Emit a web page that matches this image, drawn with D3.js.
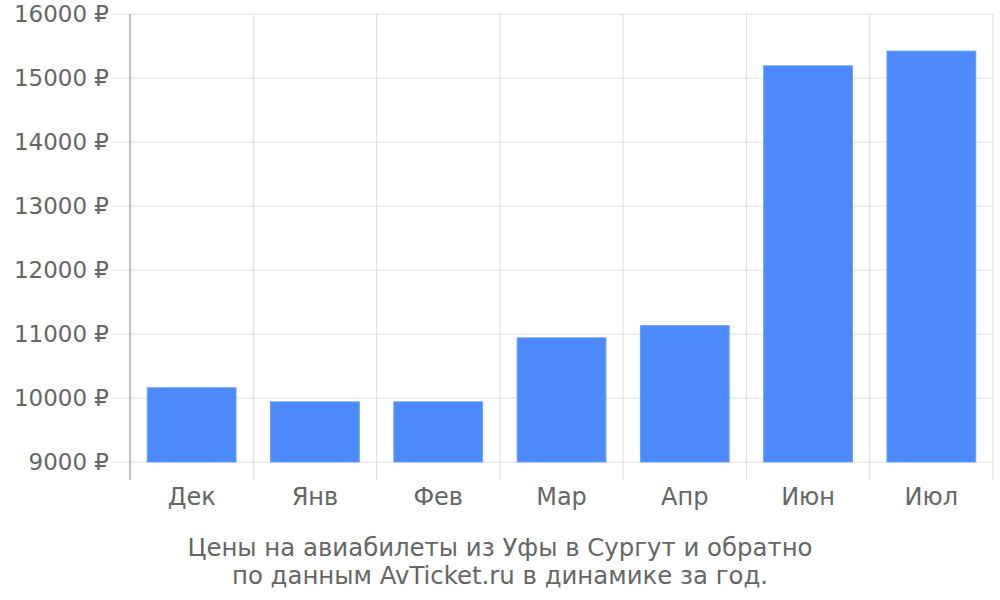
<!DOCTYPE html>
<html>
<head>
<meta charset="utf-8">
<script src="https://cdn.jsdelivr.net/npm/d3@7"></script>
<style>
  html, body { margin: 0; padding: 0; background: #fff; }
  svg { display: block; font-family: "DejaVu Sans", sans-serif; }
</style>
</head>
<body>
<svg id="chart" width="1000" height="600"></svg>
<script>
const categories = ["Дек", "Янв", "Фев", "Мар", "Апр", "Июн", "Июл"];
const prices = [10160, 9940, 9940, 10940, 11130, 15190, 15420];
const yTicks = [9000, 10000, 11000, 12000, 13000, 14000, 15000, 16000];
const titleLines = ["Цены на авиабилеты из Уфы в Сургут и обратно", "по данным AvTicket.ru в динамике за год."];

(function () {
const svg = d3.select("#chart");
const mLeft = 130, mRight = 993, mTop = 14, mBottom = 462;
const tickLen = 20;

const x = d3.scaleBand().domain(categories).range([mLeft, mRight]).paddingInner(0).paddingOuter(0);
const y = d3.scaleLinear().domain([9000, 16000]).range([mBottom, mTop]);

const gridColor = "#e0e0e0";
const axisColor = "#a8a8a8";
const textColor = "#666";

// horizontal gridlines
svg.append("g").selectAll("line").data(yTicks).join("line")
  .attr("x1", mLeft - tickLen).attr("x2", mRight)
  .attr("y1", d => y(d)).attr("y2", d => y(d))
  .attr("stroke", gridColor).attr("stroke-width", 1.2);

// vertical gridlines at band boundaries
const bounds = categories.slice(1).map(c => x(c)).concat([mRight]);
svg.append("g").selectAll("line").data(bounds).join("line")
  .attr("x1", d => d).attr("x2", d => d)
  .attr("y1", mTop).attr("y2", mBottom + tickLen - 2)
  .attr("stroke", gridColor).attr("stroke-width", 1.2);

// bars
svg.append("g").selectAll("rect").data(prices).join("rect")
  .attr("x", (d, i) => x(categories[i]) + x.bandwidth() * 0.14)
  .attr("width", x.bandwidth() * 0.72)
  .attr("y", d => y(d))
  .attr("height", d => y(9000) - y(d))
  .attr("fill", "#4d8af9")
  .attr("stroke", "#6b9ffb").attr("stroke-width", 1);

// y axis line
svg.append("line")
  .attr("x1", mLeft).attr("x2", mLeft)
  .attr("y1", mTop).attr("y2", mBottom + tickLen - 2)
  .attr("stroke", axisColor).attr("stroke-width", 1.5);

// y labels
svg.append("g").selectAll("text").data(yTicks).join("text")
  .attr("x", mLeft - tickLen - 1)
  .attr("y", d => y(d))
  .attr("dy", "0.35em")
  .attr("text-anchor", "end")
  .attr("fill", textColor)
  .style("font-size", "23px")
  .text(d => d + " ₽");

// x labels
svg.append("g").selectAll("text").data(categories).join("text")
  .attr("x", d => x(d) + x.bandwidth() / 2)
  .attr("y", 505)
  .attr("text-anchor", "middle")
  .attr("fill", textColor)
  .style("font-size", "24px")
  .text(d => d);

// title
svg.append("g").selectAll("text").data(titleLines).join("text")
  .attr("x", 500)
  .attr("y", (d, i) => 556 + i * 28)
  .attr("text-anchor", "middle")
  .attr("fill", textColor)
  .style("font-size", "24.4px")
  .text(d => d);
})();
</script>
</body>
</html>
